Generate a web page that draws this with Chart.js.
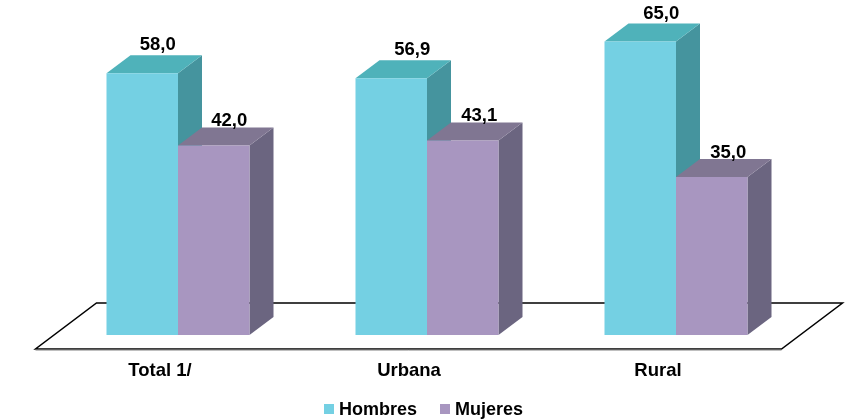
<!DOCTYPE html>
<html>
<head>
<meta charset="utf-8">
<style>
  html, body { margin: 0; padding: 0; background: #fff; }
  canvas { display: block; }
</style>
<script src="https://cdn.jsdelivr.net/npm/chart.js@4"></script>
</head>
<body>
<canvas id="chart" width="853" height="420"></canvas>
<script>
const categories = ["Total 1/", "Urbana", "Rural"];
const hombres = [58.0, 56.9, 65.0];
const mujeres = [42.0, 43.1, 35.0];

const FONT = "'Liberation Sans', Arial, sans-serif";
const DX = 24, DY = 18;

// top and side colours of each dataset's 3d box
const faces = [
  { top: "#4fb2ba", side: "#45949e" },
  { top: "#807692", side: "#6b6580" }
];

// value labels sit off-centre in the original, and not by the same amount
const labelDx = [[15.5, 21, 21], [15.5, 16.5, 16.5]];
const labelDy = [23, 19.5];

function polygon(ctx, pts, fill) {
  ctx.beginPath();
  pts.forEach((p, i) => i ? ctx.lineTo(p[0], p[1]) : ctx.moveTo(p[0], p[1]));
  ctx.closePath();
  ctx.fillStyle = fill;
  ctx.fill();
}

const box3d = {
  id: "box3d",
  beforeDatasetsDraw(chart) {
    const { ctx, chartArea: a, scales } = chart;
    const base = scales.y.getPixelForValue(0);

    // floor
    ctx.save();
    ctx.beginPath();
    ctx.moveTo(a.left - 18, base + 14);
    ctx.lineTo(a.right - 19, base + 14);
    ctx.lineTo(a.right + 42, base - 32);
    ctx.lineTo(a.left + 43, base - 32);
    ctx.closePath();
    ctx.strokeStyle = "#000";
    ctx.lineWidth = 1.5;
    ctx.stroke();
    ctx.beginPath();
    ctx.moveTo(a.left - 18, base + 15);
    ctx.lineTo(a.right - 19, base + 15);
    ctx.strokeStyle = "#808080";
    ctx.lineWidth = 1;
    ctx.stroke();

    chart.data.datasets.forEach((ds, i) => {
      chart.getDatasetMeta(i).data.forEach(bar => {
        const l = bar.x - bar.width / 2, r = bar.x + bar.width / 2;
        polygon(ctx, [[r, bar.y], [r + DX, bar.y - DY], [r + DX, base - DY], [r, base]], faces[i].side);
        polygon(ctx, [[l, bar.y], [l + DX, bar.y - DY], [r + DX, bar.y - DY], [r, bar.y]], faces[i].top);
      });
    });
    ctx.restore();
  },
  afterDatasetsDraw(chart) {
    const { ctx } = chart;
    ctx.save();
    ctx.font = "bold 18.5px " + FONT;
    ctx.fillStyle = "#000";
    ctx.textAlign = "center";
    ctx.textBaseline = "alphabetic";
    chart.data.datasets.forEach((ds, i) => {
      chart.getDatasetMeta(i).data.forEach((bar, j) => {
        ctx.fillText(ds.data[j].toFixed(1).replace(".", ","), bar.x + labelDx[i][j], bar.y - labelDy[i]);
      });
    });

    // legend: the built-in one can't set the gap between box and text
    const legendX = [324, 440];
    ctx.font = "bold 18px " + FONT;
    ctx.textAlign = "left";
    chart.data.datasets.forEach((ds, i) => {
      ctx.fillStyle = ds.backgroundColor;
      ctx.fillRect(legendX[i], 404, 10, 10);
      ctx.fillStyle = "#000";
      ctx.fillText(ds.label, legendX[i] + 15, 414.5);
    });
    ctx.restore();
  }
};

new Chart(document.getElementById("chart").getContext("2d"), {
  type: "bar",
  data: {
    labels: categories,
    datasets: [
      { label: "Hombres", data: hombres, backgroundColor: "#74d0e3" },
      { label: "Mujeres", data: mujeres, backgroundColor: "#a896c0" }
    ]
  },
  options: {
    responsive: false,
    animation: false,
    layout: { padding: { left: 53.5, right: 52.5, top: 19, bottom: 0 } },
    datasets: { bar: { categoryPercentage: 0.5743, barPercentage: 1 } },
    scales: {
      x: {
        grid: { display: false },
        border: { display: false },
        ticks: { color: "#000", font: { family: FONT, size: 18.5, weight: "bold" }, padding: 17, labelOffset: -18, maxRotation: 0 },
        afterFit: s => { s.height = 85; }
      },
      y: { display: false, min: 0, max: 70 }
    },
    plugins: {
      tooltip: { enabled: false },
      legend: { display: false }
    }
  },
  plugins: [box3d]
});
</script>
</body>
</html>
